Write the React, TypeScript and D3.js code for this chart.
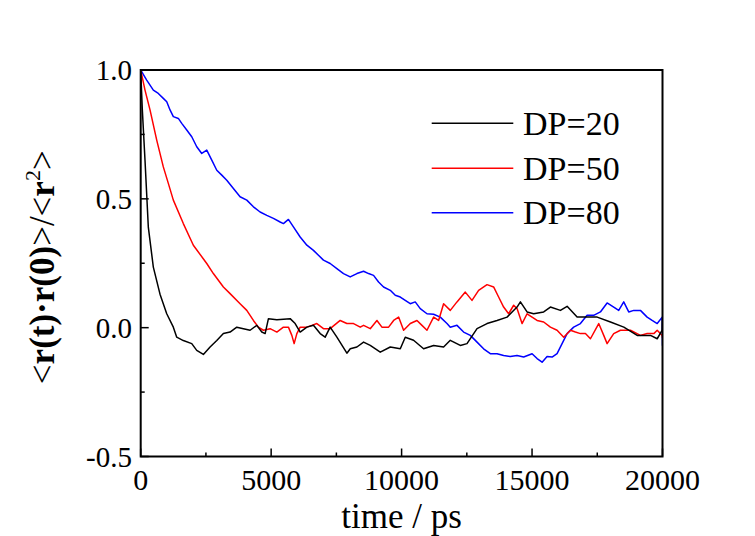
import React from "react";
import * as d3 from "d3";

const dp20T = [0, 60, 165, 292, 484, 740, 998, 1251, 1381, 1634, 1957, 2148, 2402, 2659, 2916, 3169, 3426, 3683, 3936, 4193, 4450, 4642, 4769, 4896, 5218, 5728, 5920, 6112, 6369, 6622, 6879, 7071, 7262, 7520, 7903, 8032, 8287, 8543, 8798, 9182, 9566, 9950, 10140, 10459, 10843, 11227, 11610, 11866, 12250, 12507, 12891, 13274, 13658, 14042, 14425, 14553, 14809, 15062, 15446, 15703, 16087, 16344, 16727, 16983, 17496, 18006, 18517, 19030, 19540, 19797, 19988, 20000];
const dp20V = [1.0, 0.85, 0.65, 0.39, 0.235, 0.13, 0.054, 0.002, -0.037, -0.05, -0.062, -0.088, -0.104, -0.075, -0.05, -0.023, -0.017, 0.002, -0.004, -0.01, 0.009, -0.017, -0.023, 0.035, 0.031, 0.035, 0.016, -0.017, 0.002, 0.009, -0.023, -0.037, 0.002, -0.037, -0.099, -0.082, -0.075, -0.056, -0.069, -0.095, -0.075, -0.082, -0.037, -0.049, -0.082, -0.069, -0.075, -0.049, -0.069, -0.062, -0.004, 0.016, 0.028, 0.041, 0.08, 0.1, 0.061, 0.054, 0.061, 0.08, 0.067, 0.083, 0.041, 0.041, 0.041, 0.022, 0.002, -0.03, -0.03, -0.043, -0.01, 0.035];

const dp50T = [0, 165, 357, 614, 867, 1059, 1251, 1634, 2018, 2532, 2785, 3169, 3426, 3809, 4066, 4320, 4511, 4703, 4960, 5218, 5470, 5662, 5793, 5881, 5985, 6112, 6369, 6560, 6752, 7005, 7262, 7646, 7903, 8159, 8414, 8543, 8798, 9054, 9246, 9502, 9694, 9886, 10077, 10333, 10589, 10781, 10973, 11227, 11418, 11610, 11866, 12123, 12441, 12698, 12952, 13274, 13527, 13719, 13911, 14103, 14295, 14425, 14617, 14809, 15001, 15193, 15446, 15703, 15959, 16214, 16471, 16662, 16854, 17046, 17238, 17556, 17748, 17877, 18130, 18387, 18771, 19154, 19411, 19667, 19797, 19988, 20000];
const dp50V = [1.0, 0.922, 0.845, 0.728, 0.624, 0.56, 0.495, 0.404, 0.32, 0.249, 0.21, 0.158, 0.132, 0.093, 0.067, 0.028, 0.002, -0.01, -0.004, -0.017, 0.002, 0.002, -0.03, -0.062, -0.023, 0.002, 0.002, 0.009, 0.016, -0.004, -0.004, 0.028, 0.016, 0.016, 0.002, 0.009, -0.004, 0.028, 0.002, 0.002, 0.028, 0.041, -0.01, 0.016, 0.028, 0.009, -0.01, 0.041, 0.028, 0.093, 0.067, 0.1, 0.138, 0.106, 0.145, 0.167, 0.158, 0.119, 0.08, 0.054, 0.087, 0.074, 0.016, 0.054, 0.041, 0.028, 0.022, 0.002, -0.01, -0.037, -0.01, -0.017, -0.023, -0.023, -0.043, 0.016, -0.03, -0.062, -0.023, -0.01, -0.01, -0.03, -0.023, -0.023, -0.01, -0.03, -0.04];

const dp80T = [0, 230, 484, 675, 867, 998, 1124, 1251, 1443, 1573, 1765, 1957, 2148, 2340, 2532, 2724, 2916, 3107, 3299, 3553, 3809, 4066, 4320, 4577, 4834, 5087, 5344, 5470, 5662, 5854, 6112, 6369, 6622, 6813, 7005, 7262, 7519, 7773, 8030, 8287, 8543, 8734, 8925, 9117, 9309, 9566, 9757, 9950, 10140, 10331, 10523, 10715, 10973, 11227, 11482, 11740, 11866, 12123, 12377, 12634, 12891, 13143, 13400, 13658, 13911, 14168, 14425, 14679, 15001, 15193, 15385, 15576, 15768, 15959, 16151, 16343, 16596, 16854, 17110, 17363, 17620, 17877, 18130, 18322, 18514, 18706, 18898, 19154, 19411, 19603, 19797, 19988, 20000];
const dp80V = [1.0, 0.961, 0.922, 0.909, 0.89, 0.877, 0.845, 0.819, 0.812, 0.793, 0.767, 0.741, 0.702, 0.676, 0.689, 0.65, 0.611, 0.592, 0.572, 0.54, 0.508, 0.495, 0.469, 0.449, 0.436, 0.424, 0.41, 0.404, 0.42, 0.391, 0.352, 0.32, 0.3, 0.281, 0.262, 0.249, 0.229, 0.21, 0.197, 0.21, 0.219, 0.21, 0.203, 0.177, 0.158, 0.145, 0.126, 0.119, 0.106, 0.093, 0.1, 0.074, 0.054, 0.052, 0.041, 0.016, 0.002, 0.009, -0.017, -0.03, -0.056, -0.082, -0.101, -0.101, -0.108, -0.112, -0.108, -0.114, -0.101, -0.12, -0.134, -0.112, -0.114, -0.101, -0.062, -0.023, 0.002, 0.016, 0.048, 0.048, 0.061, 0.096, 0.08, 0.067, 0.1, 0.061, 0.067, 0.067, 0.041, 0.028, 0.016, 0.041, -0.07];

const seriesNames = ["DP=20", "DP=50", "DP=80"];
const seriesColors = ["#000000", "#ff0000", "#0000ff"];
const xTicks = [0, 5000, 10000, 15000, 20000];
const xMinorTicks = [2500, 7500, 12500, 17500];
const yTicks = [-0.5, 0.0, 0.5, 1.0];
const yMinorTicks = [-0.25, 0.25, 0.75];

const W = 755, H = 536;
const L = 140.7, R = 662.5, T = 70, B = 456.5;

export default function App() {
  const x = d3.scaleLinear().domain([0, 20000]).range([L, R]);
  const y = d3.scaleLinear().domain([-0.5, 1.0]).range([B, T]);
  const line = d3.line<[number, number]>().x(d => x(d[0])).y(d => y(d[1]));
  const series = [
    dp20T.map((t, i) => [t, dp20V[i]] as [number, number]),
    dp50T.map((t, i) => [t, dp50V[i]] as [number, number]),
    dp80T.map((t, i) => [t, dp80V[i]] as [number, number]),
  ];
  const font = "'Liberation Serif', 'Times New Roman', serif";
  const legY = [123.3, 168.3, 212.7];
  return (
    <svg width={W} height={H} style={{ position: "absolute", left: 0, top: 0, background: "#fff" }} fontFamily={font}>
      <rect x={0} y={0} width={W} height={H} fill="#fff" />
      <g clipPath="url(#clip)">
        <defs>
          <clipPath id="clip"><rect x={L} y={T} width={R - L} height={B - T} /></clipPath>
        </defs>
        {[2, 1, 0].map(i => (
          <path key={i} d={line(series[i]) || ""} fill="none" stroke={seriesColors[i]} strokeWidth={1.5} strokeLinejoin="round" />
        ))}
      </g>
      <rect x={L} y={T} width={R - L} height={B - T} fill="none" stroke="#000" strokeWidth={2} />
      {xTicks.map(t => (
        <g key={"xt" + t}>
          <line x1={x(t)} x2={x(t)} y1={B} y2={B - 8} stroke="#000" strokeWidth={1.5} />
          <text x={x(t)} y={490} fontSize={30} textAnchor="middle">{t}</text>
        </g>
      ))}
      {xMinorTicks.map(t => (
        <line key={"xm" + t} x1={x(t)} x2={x(t)} y1={B} y2={B - 4} stroke="#000" strokeWidth={1.5} />
      ))}
      {yTicks.map(v => (
        <g key={"yt" + v}>
          <line x1={L} x2={L + 8} y1={y(v)} y2={y(v)} stroke="#000" strokeWidth={1.5} />
          <text x={132} y={y(v) + 10} fontSize={29} textAnchor="end">{v.toFixed(1)}</text>
        </g>
      ))}
      {yMinorTicks.map(v => (
        <line key={"ym" + v} x1={L} x2={L + 4} y1={y(v)} y2={y(v)} stroke="#000" strokeWidth={1.5} />
      ))}
      <text x={(L + R) / 2} y={528} fontSize={35} textAnchor="middle">time / ps</text>
      <text transform={`translate(54, ${(T + B) / 2 + 4}) rotate(-90)`} fontSize={35} textAnchor="middle">
        <tspan>&lt;</tspan>
        <tspan fontWeight="bold">r(t)·r(0)</tspan>
        <tspan>&gt;/&lt;</tspan>
        <tspan fontWeight="bold">r</tspan>
        <tspan fontSize={22} dy={-14}>2</tspan>
        <tspan dy={14}>&gt;</tspan>
      </text>
      {seriesNames.map((n, i) => (
        <g key={n}>
          <line x1={431.7} x2={513.3} y1={legY[i]} y2={legY[i]} stroke={seriesColors[i]} strokeWidth={1.5} />
          <text x={523} y={legY[i] + 11.5} fontSize={34}>{n}</text>
        </g>
      ))}
    </svg>
  );
}
